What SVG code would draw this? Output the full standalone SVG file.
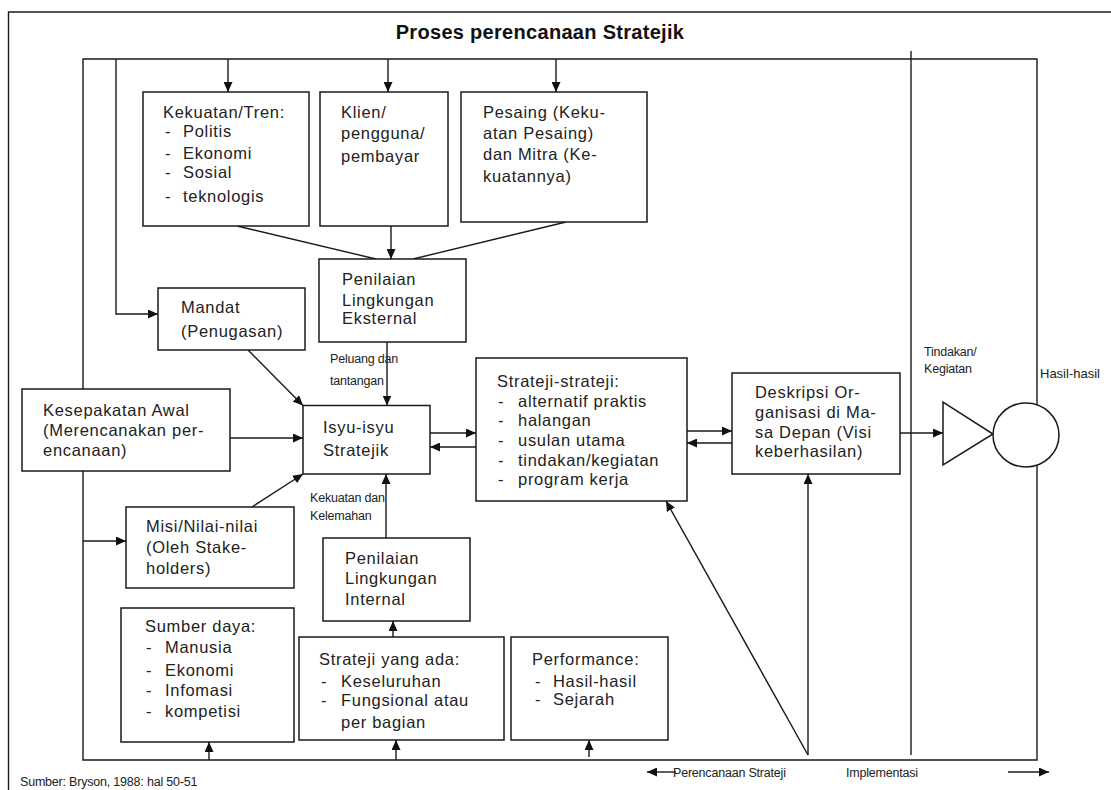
<svg xmlns="http://www.w3.org/2000/svg" width="1111" height="790" viewBox="0 0 1111 790">
<defs>
<marker id="ah" markerUnits="userSpaceOnUse" markerWidth="11" markerHeight="9" refX="10" refY="4.5" orient="auto">
<path d="M0,0 L10,4.5 L0,9 z" fill="#111"/>
</marker>
</defs>
<style>
.box{fill:#fff;stroke:#1a1a1a;stroke-width:1.5}
.ln{fill:none;stroke:#1a1a1a;stroke-width:1.4}
.ar{fill:none;stroke:#1a1a1a;stroke-width:1.4;marker-end:url(#ah)}
.t{font-family:"Liberation Sans",Arial,sans-serif;font-size:16.5px;letter-spacing:0.7px;fill:#222}
.s{font-family:"Liberation Sans",Arial,sans-serif;font-size:12.5px;letter-spacing:-0.2px;fill:#222}
.title{font-family:"Liberation Sans",Arial,sans-serif;font-size:20px;font-weight:bold;letter-spacing:0.3px;fill:#111}
</style>
<rect width="1111" height="790" fill="#fff"/>
<g id="frame">
<path class="ln" d="M8.5,790 V12 H1111"/>
<path class="ln" d="M83,389 V59 H1037 V760 H83 V471"/>
<path class="ln" d="M911,51 V755"/>
<text class="title" x="540" y="39" text-anchor="middle">Proses perencanaan Stratejik</text>
</g>
<g id="connectors">
<path class="ar" d="M228,59 V92"/>
<path class="ar" d="M388,59 V92"/>
<path class="ar" d="M556,59 V92"/>
<path class="ln" d="M237,226 L376,259"/>
<path class="ln" d="M566,222 L413,259"/>
<path class="ar" d="M391,226 V259"/>
<path class="ar" d="M116,59 V314 H158"/>
<path class="ar" d="M387,342 V405.5"/>
<path class="ar" d="M248,350 L303,405.5"/>
<path class="ar" d="M230,438 H303"/>
<path class="ar" d="M83,541 H126"/>
<path class="ar" d="M252,507 L303,474"/>
<path class="ar" d="M386,538 V474"/>
<path class="ar" d="M393,637 V621"/>
<path class="ar" d="M209,760 V742"/>
<path class="ar" d="M396,760 V740"/>
<path class="ar" d="M589,757 V740"/>
<path class="ar" d="M428,433 H476"/>
<path class="ar" d="M476,447 H430"/>
<path class="ar" d="M685,431 H732"/>
<path class="ar" d="M735,443 H687"/>
<path class="ar" d="M808,755 V474"/>
<path class="ar" d="M808,755 L666,501"/>
<path class="ar" d="M900,433 H943"/>
<path class="ar" d="M676,772 H647"/>
<path class="ar" d="M1008,772 H1049"/>
</g>
<g id="kekuatan">
<rect class="box" x="143" y="92" width="166" height="134"/>
<text class="t" x="163" y="118">Kekuatan/Tren:</text>
<text class="t" x="165" y="137">-</text><text class="t" x="183" y="137">Politis</text>
<text class="t" x="165" y="159">-</text><text class="t" x="183" y="159">Ekonomi</text>
<text class="t" x="165" y="178">-</text><text class="t" x="183" y="178">Sosial</text>
<text class="t" x="165" y="202">-</text><text class="t" x="183" y="202">teknologis</text>
</g>
<g id="klien">
<rect class="box" x="320" y="92" width="128" height="134"/>
<text class="t" x="341" y="118">Klien/</text>
<text class="t" x="341" y="139">pengguna/</text>
<text class="t" x="341" y="162">pembayar</text>
</g>
<g id="pesaing">
<rect class="box" x="461" y="92" width="186" height="130"/>
<text class="t" x="483" y="118">Pesaing (Keku-</text>
<text class="t" x="483" y="139">atan Pesaing)</text>
<text class="t" x="483" y="160">dan Mitra (Ke-</text>
<text class="t" x="483" y="182">kuatannya)</text>
</g>
<g id="eksternal">
<rect class="box" x="319" y="259" width="147" height="83"/>
<text class="t" x="342" y="285">Penilaian</text>
<text class="t" x="342" y="306">Lingkungan</text>
<text class="t" x="342" y="324">Eksternal</text>
<text class="s" x="330" y="363">Peluang dan</text>
<text class="s" x="330" y="385">tantangan</text>
</g>
<g id="mandat">
<rect class="box" x="158" y="288" width="147" height="62"/>
<text class="t" x="181" y="313">Mandat</text>
<text class="t" x="181" y="337">(Penugasan)</text>
</g>
<g id="kesepakatan">
<rect class="box" x="22" y="389" width="208" height="82"/>
<text class="t" x="43" y="416">Kesepakatan Awal</text>
<text class="t" x="43" y="436">(Merencanakan per-</text>
<text class="t" x="43" y="456">encanaan)</text>
</g>
<g id="isyu">
<rect class="box" x="303" y="405.5" width="127" height="68.5"/>
<text class="t" x="323" y="433">Isyu-isyu</text>
<text class="t" x="323" y="456">Stratejik</text>
</g>
<g id="strateji">
<rect class="box" x="476" y="358" width="211" height="143"/>
<text class="t" x="497" y="387">Strateji-strateji:</text>
<text class="t" x="498" y="407">-</text><text class="t" x="518" y="407">alternatif praktis</text>
<text class="t" x="498" y="426">-</text><text class="t" x="518" y="426">halangan</text>
<text class="t" x="498" y="446">-</text><text class="t" x="518" y="446">usulan utama</text>
<text class="t" x="498" y="466">-</text><text class="t" x="518" y="466">tindakan/kegiatan</text>
<text class="t" x="498" y="485">-</text><text class="t" x="518" y="485">program kerja</text>
</g>
<g id="deskripsi">
<rect class="box" x="732" y="373" width="168" height="101"/>
<text class="t" x="755" y="398">Deskripsi Or-</text>
<text class="t" x="755" y="418">ganisasi di Ma-</text>
<text class="t" x="755" y="438">sa Depan (Visi</text>
<text class="t" x="755" y="457">keberhasilan)</text>
</g>
<g id="tindakan">
<text class="s" x="924" y="356">Tindakan/</text>
<text class="s" x="924" y="373">Kegiatan</text>
<path class="box" d="M943,402 L943,465 L993,434 z"/>
</g>
<g id="hasil">
<text class="t" x="1040" y="378" style="font-size:13px;letter-spacing:0">Hasil-hasil</text>
<ellipse class="box" cx="1026" cy="435" rx="33" ry="32"/>
</g>
<g id="misi">
<rect class="box" x="126" y="507" width="168" height="81"/>
<text class="t" x="146" y="532">Misi/Nilai-nilai</text>
<text class="t" x="146" y="553">(Oleh Stake-</text>
<text class="t" x="146" y="574">holders)</text>
<text class="s" x="310" y="502">Kekuatan dan</text>
<text class="s" x="310" y="520">Kelemahan</text>
</g>
<g id="internal">
<rect class="box" x="323" y="538" width="147" height="83"/>
<text class="t" x="345" y="564">Penilaian</text>
<text class="t" x="345" y="584">Lingkungan</text>
<text class="t" x="345" y="605">Internal</text>
</g>
<g id="sumberdaya">
<rect class="box" x="121" y="608" width="173" height="134"/>
<text class="t" x="145" y="632">Sumber daya:</text>
<text class="t" x="146" y="653">-</text><text class="t" x="165" y="653">Manusia</text>
<text class="t" x="146" y="676">-</text><text class="t" x="165" y="676">Ekonomi</text>
<text class="t" x="146" y="696">-</text><text class="t" x="165" y="696">Infomasi</text>
<text class="t" x="146" y="717">-</text><text class="t" x="165" y="717">kompetisi</text>
</g>
<g id="strategiada">
<rect class="box" x="299" y="637" width="205" height="103"/>
<text class="t" x="319" y="665">Strateji yang ada:</text>
<text class="t" x="321" y="687">-</text><text class="t" x="341" y="687">Keseluruhan</text>
<text class="t" x="321" y="706">-</text><text class="t" x="341" y="706">Fungsional atau</text>
<text class="t" x="341" y="728">per bagian</text>
</g>
<g id="performance">
<rect class="box" x="511" y="637" width="157" height="103"/>
<text class="t" x="532" y="665">Performance:</text>
<text class="t" x="535" y="687">-</text><text class="t" x="553" y="687">Hasil-hasil</text>
<text class="t" x="535" y="705">-</text><text class="t" x="553" y="705">Sejarah</text>
</g>
<g id="footer">
<text class="s" x="673" y="777">Perencanaan Strateji</text>
<text class="s" x="846" y="777">Implementasi</text>
<text class="s" x="20" y="786">Sumber: Bryson, 1988: hal 50-51</text>
</g>
</svg>
